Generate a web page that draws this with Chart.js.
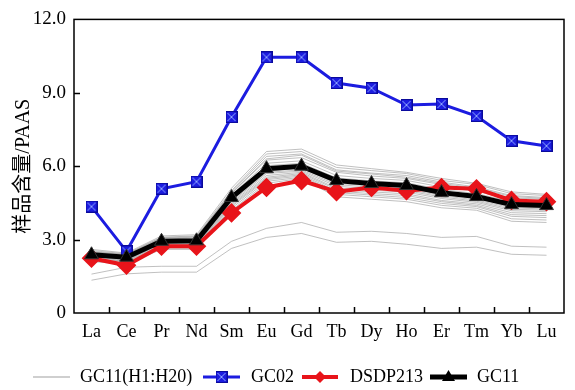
<!DOCTYPE html>
<html>
<head>
<meta charset="utf-8">
<script src="https://cdn.jsdelivr.net/npm/chart.js@4/dist/chart.umd.min.js"></script>
<style>
  body { margin: 0; background: #fff; }
</style>
</head>
<body>
<canvas id="reeChart" width="575" height="390"></canvas>
<script>
// REE patterns normalised to PAAS
const elements = ['La', 'Ce', 'Pr', 'Nd', 'Sm', 'Eu', 'Gd', 'Tb', 'Dy', 'Ho', 'Er', 'Tm', 'Yb', 'Lu'];
const yTickLabels = ['0', '3.0', '6.0', '9.0', '12.0'];

const gc02 = [4.35, 2.52, 5.08, 5.37, 8.01, 10.45, 10.45, 9.4, 9.19, 8.5, 8.54, 8.05, 7.04, 6.83];
const dsdp213 = [2.24, 1.95, 2.73, 2.73, 4.09, 5.13, 5.41, 4.96, 5.13, 5.0, 5.13, 5.08, 4.6, 4.55];
const gc11 = [2.38, 2.28, 2.93, 2.95, 4.72, 5.9, 6.0, 5.41, 5.29, 5.21, 4.92, 4.76, 4.43, 4.39];

// individual samples H1..H20
const h1 = [2.6, 2.45, 3.15, 3.2, 5.1, 6.6, 6.7, 6.05, 5.9, 5.75, 5.5, 5.3, 4.95, 4.85];
const h2 = [2.55, 2.42, 3.1, 3.15, 5.0, 6.5, 6.6, 5.95, 5.82, 5.7, 5.42, 5.25, 4.88, 4.8];
const h3 = [2.5, 2.38, 3.05, 3.1, 4.95, 6.4, 6.5, 5.85, 5.72, 5.62, 5.35, 5.15, 4.8, 4.72];
const h4 = [2.48, 2.35, 3.02, 3.06, 4.88, 6.25, 6.35, 5.75, 5.6, 5.5, 5.25, 5.05, 4.7, 4.65];
const h5 = [2.45, 2.33, 3.0, 3.02, 4.82, 6.12, 6.22, 5.62, 5.5, 5.42, 5.15, 4.98, 4.62, 4.57];
const h6 = [2.42, 2.3, 2.97, 2.99, 4.78, 6.02, 6.12, 5.52, 5.4, 5.32, 5.05, 4.88, 4.55, 4.5];
const h7 = [2.4, 2.3, 2.95, 2.96, 4.75, 5.95, 6.05, 5.45, 5.33, 5.25, 4.97, 4.8, 4.48, 4.43];
const h8 = [2.36, 2.27, 2.92, 2.93, 4.7, 5.88, 5.98, 5.38, 5.26, 5.18, 4.9, 4.73, 4.4, 4.35];
const h9 = [2.34, 2.25, 2.9, 2.9, 4.65, 5.8, 5.92, 5.3, 5.2, 5.12, 4.85, 4.68, 4.35, 4.3];
const h10 = [2.32, 2.22, 2.86, 2.87, 4.6, 5.75, 5.85, 5.25, 5.14, 5.05, 4.8, 4.62, 4.3, 4.25];
const h11 = [2.3, 2.2, 2.83, 2.84, 4.55, 5.7, 5.8, 5.18, 5.08, 5.0, 4.74, 4.57, 4.24, 4.2];
const h12 = [2.28, 2.18, 2.8, 2.8, 4.5, 5.62, 5.75, 5.1, 5.02, 4.94, 4.68, 4.52, 4.18, 4.14];
const h13 = [2.25, 2.15, 2.77, 2.77, 4.45, 5.55, 5.7, 5.05, 4.95, 4.87, 4.6, 4.46, 4.1, 4.06];
const h14 = [2.22, 2.12, 2.74, 2.74, 4.4, 5.5, 5.65, 4.98, 4.88, 4.8, 4.55, 4.4, 4.02, 3.98];
const h15 = [2.2, 2.1, 2.7, 2.7, 4.35, 5.45, 5.6, 4.92, 4.82, 4.72, 4.48, 4.35, 3.95, 3.9];
const h16 = [2.15, 2.05, 2.65, 2.65, 4.28, 5.38, 5.55, 4.85, 4.75, 4.65, 4.4, 4.28, 3.85, 3.8];
const h17 = [2.1, 2.0, 2.6, 2.6, 4.2, 5.3, 5.5, 4.75, 4.65, 4.55, 4.3, 4.2, 3.75, 3.7];
const h18 = [1.59, 1.87, 1.91, 1.91, 2.93, 3.46, 3.7, 3.3, 3.34, 3.25, 3.09, 3.13, 2.73, 2.69];
const h19 = [1.34, 1.6, 1.67, 1.67, 2.64, 3.09, 3.25, 2.89, 2.93, 2.81, 2.64, 2.69, 2.4, 2.36];
const h20 = [2.5, 2.4, 3.08, 3.12, 4.9, 6.3, 6.45, 5.8, 5.68, 5.55, 5.3, 5.1, 4.76, 4.68];
const samples = [h1, h2, h3, h4, h5, h6, h7, h8, h9, h10, h11, h12, h13, h14, h15, h16, h17, h18, h19, h20];

const FONT = "'Liberation Serif', 'Noto Sans CJK SC', serif";
const BLUE = '#1c1ce0';
const RED = '#e8141a';

// blue square with an x in it
function squareX(size) {
  const c = document.createElement('canvas');
  c.width = size; c.height = size;
  const g = c.getContext('2d');
  g.fillStyle = BLUE;
  g.fillRect(0, 0, size, size);
  g.strokeStyle = '#0a0a9a';
  g.lineWidth = 1;
  g.strokeRect(0.5, 0.5, size - 1, size - 1);
  g.strokeStyle = '#8ea6ff';
  g.beginPath();
  g.moveTo(2, 2); g.lineTo(size - 2, size - 2);
  g.moveTo(size - 2, 2); g.lineTo(2, size - 2);
  g.stroke();
  return c;
}
const blueMarker = squareX(12);

const grayDatasets = samples.map((s, i) => ({
  label: 'H' + (i + 1),
  data: s,
  borderColor: 'rgba(150,150,150,0.6)',
  borderWidth: 1,
  pointRadius: 0,
  order: 3
}));

// frame, inward ticks and legend
const framePlugin = {
  id: 'frame',
  afterDraw(chart) {
    const { ctx, chartArea: a, scales } = chart;
    ctx.save();
    ctx.strokeStyle = '#000';
    ctx.lineWidth = 1.5;
    ctx.strokeRect(a.left, a.top, a.right - a.left, a.bottom - a.top);
    ctx.beginPath();
    for (let i = 1; i < elements.length; i++) {
      const x = Math.round((scales.x.getPixelForValue(i - 1) + scales.x.getPixelForValue(i)) / 2) + 0.5;
      ctx.moveTo(x, a.bottom);
      ctx.lineTo(x, a.bottom - 6);
    }
    [3, 6, 9].forEach(v => {
      const y = Math.round(scales.y.getPixelForValue(v)) + 0.5;
      ctx.moveTo(a.left, y);
      ctx.lineTo(a.left + 6, y);
    });
    ctx.stroke();

    // legend
    const ly = 377;
    ctx.font = '18px ' + FONT;
    ctx.fillStyle = '#000';
    ctx.textBaseline = 'middle';
    const items = [
      { x0: 33, x1: 70, tx: 80, text: 'GC11(H1:H20)', color: '#a0a0a0', w: 1.2, m: null },
      { x0: 203, x1: 240, tx: 251, text: 'GC02', color: BLUE, w: 3, m: 'sq' },
      { x0: 302, x1: 338, tx: 350, text: 'DSDP213', color: RED, w: 4, m: 'dia' },
      { x0: 430, x1: 467, tx: 477, text: 'GC11', color: '#000', w: 5, m: 'tri' }
    ];
    items.forEach(it => {
      ctx.strokeStyle = it.color;
      ctx.lineWidth = it.w;
      ctx.beginPath();
      ctx.moveTo(it.x0, ly);
      ctx.lineTo(it.x1, ly);
      ctx.stroke();
      const cx = (it.x0 + it.x1) / 2;
      if (it.m === 'sq') {
        ctx.drawImage(blueMarker, cx - 6, ly - 6);
      } else if (it.m === 'dia') {
        ctx.fillStyle = RED;
        ctx.beginPath();
        ctx.moveTo(cx, ly - 6); ctx.lineTo(cx + 6, ly); ctx.lineTo(cx, ly + 6); ctx.lineTo(cx - 6, ly);
        ctx.closePath(); ctx.fill();
      } else if (it.m === 'tri') {
        ctx.fillStyle = '#000';
        ctx.beginPath();
        ctx.moveTo(cx, ly - 7); ctx.lineTo(cx + 6.5, ly + 4); ctx.lineTo(cx - 6.5, ly + 4);
        ctx.closePath(); ctx.fill();
      }
      ctx.fillStyle = '#000';
      ctx.fillText(it.text, it.tx, ly);
    });
    ctx.restore();
  }
};

new Chart(document.getElementById('reeChart'), {
  type: 'line',
  data: {
    labels: elements,
    datasets: [
      ...grayDatasets,
      {
        label: 'GC02', data: gc02, borderColor: BLUE, borderWidth: 3,
        pointStyle: blueMarker, pointRadius: 6, order: 2
      },
      {
        label: 'DSDP213', data: dsdp213, borderColor: RED, borderWidth: 4,
        pointStyle: 'rectRot', pointRadius: 7, pointBackgroundColor: RED, pointBorderColor: RED, order: 1
      },
      {
        label: 'GC11', data: gc11, borderColor: '#000', borderWidth: 5,
        pointStyle: 'triangle', pointRadius: 8, pointBackgroundColor: '#000', pointBorderColor: '#333',
        pointBorderWidth: 1, order: 0
      }
    ]
  },
  options: {
    responsive: false,
    animation: false,
    layout: { padding: { left: 12, right: 7, top: 18, bottom: 47 } },
    plugins: { legend: { display: false }, tooltip: { enabled: false } },
    scales: {
      x: {
        type: 'category',
        offset: true,
        grid: { display: false, drawTicks: false },
        border: { display: false },
        ticks: { color: '#000', font: { family: FONT, size: 18 }, padding: 8, maxRotation: 0, autoSkip: false },
        afterFit(scale) { scale.height = 30; }
      },
      y: {
        min: 0,
        max: 12,
        grid: { display: false, drawTicks: false },
        border: { display: false },
        ticks: {
          stepSize: 3,
          color: '#000',
          font: { family: FONT, size: 19 },
          padding: 8,
          callback: (v, i) => yTickLabels[i]
        },
        title: {
          display: true,
          text: '样品含量/PAAS',
          color: '#000',
          font: { family: FONT, size: 20 },
          padding: { top: 0, bottom: 0 }
        },
        afterFit(scale) { scale.width = 62; }
      }
    }
  },
  plugins: [framePlugin]
});
</script>
</body>
</html>
